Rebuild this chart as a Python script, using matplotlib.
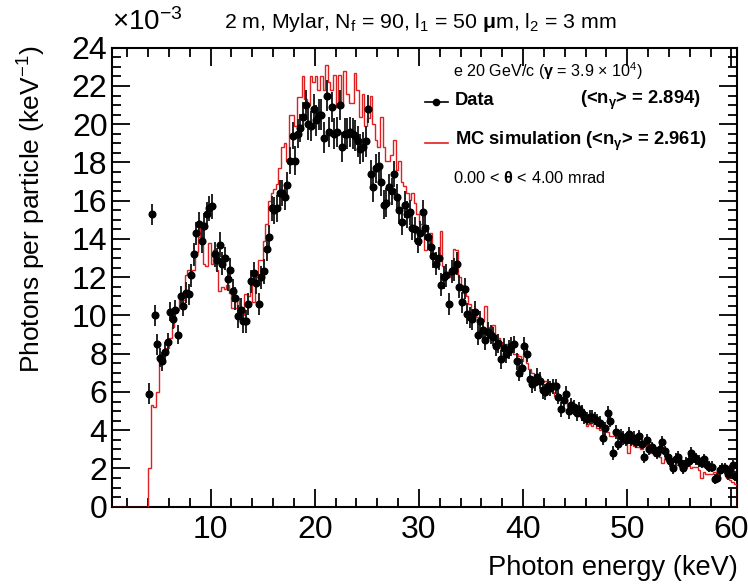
import numpy as np
import matplotlib
matplotlib.use("Agg")
import matplotlib.pyplot as plt
from matplotlib.lines import Line2D

plt.rcParams['font.family'] = ['Liberation Sans', 'DejaVu Sans']
plt.rcParams['mathtext.fontset'] = 'custom'
plt.rcParams['mathtext.rm'] = 'Liberation Sans'
plt.rcParams['mathtext.it'] = 'Liberation Sans:italic'
plt.rcParams['mathtext.bf'] = 'Liberation Sans:bold'

# histogram binning (keV)
bin_lo = 0.5
bin_width = 0.25
n_bins = 240
first_filled = 14   # first bin with entries (4.0 keV)

# measured spectrum, 10^-3 photons / keV / particle, one value per 0.25 keV bin from 4 keV
data = [
    5.9, 15.3, 10.0, 8.5,      # 4
    7.8, 7.6, 8.1, 8.6,        # 5
    10.2, 9.8, 10.3, 9.0,      # 6
    11.0, 10.5, 11.2, 11.1,    # 7
    12.1, 13.2, 14.3, 14.8,    # 8
    13.9, 14.7, 15.3, 15.6,    # 9
    15.7, 13.2, 12.9, 13.7,    # 10
    12.7, 13.0, 11.9, 12.4,    # 11
    11.3, 10.9, 9.95, 10.3,    # 12
    9.7, 9.7, 10.6, 11.8,      # 13
    12.2, 11.7, 10.6, 12.0,    # 14
    12.3, 13.5, 14.1, 15.6,    # 15
    15.5, 15.6, 16.4, 16.4,    # 16
    16.2, 16.8, 18.1, 19.4,    # 17
    18.1, 19.5, 19.8, 20.4,    # 18
    21.0, 20.0, 19.9, 20.8,    # 19
    20.2, 20.5, 20.5, 19.3,    # 20
    21.5, 19.6, 20.9, 19.5,    # 21
    19.6, 21.0, 18.8, 19.5,    # 22
    19.5, 19.6, 19.5, 19.4,    # 23
    19.1, 18.7, 18.8, 19.1,    # 24
    20.8, 17.4, 16.7, 17.7,    # 25
    17.8, 17.0, 15.8, 15.9,    # 26
    16.7, 16.5, 17.4, 16.2,    # 27
    15.5, 14.9, 15.8, 15.3,    # 28
    15.4, 14.6, 14.5, 13.9,    # 29
    14.3, 15.4, 14.6, 14.1,    # 30
    13.6, 13.1, 12.7, 13.0,    # 31
    11.6, 12.0, 12.1, 10.6,    # 32
    12.3, 12.4, 12.7, 11.5,    # 33
    10.7, 11.4, 10.1, 9.9,     # 34
    9.8, 10.2, 9.0, 9.7,       # 35
    9.25, 8.7, 9.15, 9.0,      # 36
    8.9, 8.4, 8.55, 7.7,       # 37
    8.3, 8.0, 8.2, 8.4,        # 38
    8.5, 7.6, 7.0, 7.25,       # 39
    8.4, 8.0, 6.7, 6.4,        # 40
    6.5, 6.8, 6.6, 6.1,        # 41
    6.0, 6.3, 6.2, 6.3,        # 42
    6.3, 5.75, 5.1, 5.6,       # 43
    5.9, 5.0, 5.3, 5.2,        # 44
    4.9, 5.1, 4.9, 4.7,        # 45
    4.6, 4.7, 4.7, 4.6,        # 46
    4.5, 4.4, 3.6, 4.1,        # 47
    4.9, 4.5, 2.8, 3.9,        # 48
    3.3, 3.7, 3.6, 3.5,        # 49
    3.8, 3.5, 3.6, 3.4,        # 50
    3.7, 3.3, 2.6, 3.5,        # 51
    3.0, 3.1, 2.9, 2.8,        # 52
    3.0, 3.4, 2.9, 2.6,        # 53
    2.4, 2.0, 2.5, 2.6,        # 54
    2.3, 2.0, 2.3, 2.4,        # 55
    2.8, 2.6, 2.5, 2.4,        # 56
    2.3, 2.5, 2.2, 2.1,        # 57
    2.1, 1.45, 1.5, 1.9,       # 58
    2.0, 2.0, 1.7, 1.9,        # 59
    2.2, 1.6,                  # 60
]

# statistical error of the data, one value per keV (4 ... 60)
data_err_per_kev = [
    0.55, 0.5, 0.5, 0.55, 0.6, 0.65,
    0.65, 0.6, 0.6, 0.6, 0.6,
    0.65, 0.7, 0.7, 0.75, 0.8,
    0.8, 0.8, 0.8, 0.8, 0.8,
    0.75, 0.75, 0.7, 0.7, 0.65,
    0.65, 0.6, 0.6, 0.6, 0.55,
    0.55, 0.5, 0.5, 0.5, 0.45,
    0.45, 0.45, 0.4, 0.4, 0.4,
    0.4, 0.35, 0.35, 0.35, 0.35,
    0.35, 0.3, 0.3, 0.3, 0.3,
    0.3, 0.3, 0.28, 0.28, 0.28, 0.28,
]

# MC simulation, same binning
mc = [
    2.0, 5.3, 5.2, 6.0,        # 4
    7.5, 7.9, 8.1, 8.3,        # 5
    8.8, 9.4, 10.2, 10.3,      # 6
    11.0, 10.8, 12.1, 12.4,    # 7
    12.1, 12.4, 13.3, 14.1,    # 8
    14.6, 12.7, 12.6, 13.8,    # 9
    12.7, 13.4, 12.4, 11.3,    # 10
    11.5, 11.4, 11.6, 11.2,    # 11
    10.4, 10.4, 10.9, 10.1,    # 12
    10.0, 11.1, 11.0, 11.8,    # 13
    10.7, 12.0, 12.9, 12.9,    # 14
    13.9, 14.8, 16.0, 16.4,    # 15
    16.6, 16.9, 17.7, 18.8,    # 16
    19.0, 18.1, 20.5, 20.5,    # 17
    19.9, 21.4, 21.4, 22.5,    # 18
    21.3, 21.0, 22.5, 22.2,    # 19
    22.5, 21.8, 22.5, 21.8,    # 20
    23.1, 22.2, 21.8, 22.6,    # 21
    20.9, 22.6, 20.9, 22.8,    # 22
    21.6, 21.1, 21.1, 22.7,    # 23
    21.8, 20.4, 21.6, 19.9,    # 24
    20.3, 21.5, 20.0, 19.2,    # 25
    18.8, 20.4, 18.8, 18.1,    # 26
    18.1, 18.4, 19.2, 17.6,    # 27
    18.1, 17.0, 16.75, 16.4,   # 28
    16.05, 16.4, 15.9, 15.3,   # 29
    14.8, 14.5, 13.4, 13.5,    # 30
    14.3, 13.2, 13.0, 12.9,    # 31
    14.4, 12.6, 12.1, 12.0,    # 32
    12.5, 13.5, 13.4, 12.0,    # 33
    11.6, 11.2, 11.0, 10.6,    # 34
    10.3, 10.2, 9.9, 9.8,      # 35
    9.7, 10.5, 9.4, 9.3,       # 36
    9.5, 9.0, 8.8, 8.6,        # 37
    8.4, 8.5, 8.2, 8.3,        # 38
    8.0, 8.0, 7.9, 7.6,        # 39
    8.0, 7.5, 7.2, 7.0,        # 40
    6.8, 6.7, 6.6, 6.5,        # 41
    6.6, 6.2, 6.4, 6.0,        # 42
    5.8, 5.6, 5.7, 5.5,        # 43
    5.6, 5.2, 5.4, 5.0,        # 44
    5.2, 4.9, 4.7, 4.5,        # 45
    4.2, 4.3, 4.2, 4.4,        # 46
    4.1, 4.0, 4.2, 4.0,        # 47
    3.9, 3.7, 3.7, 3.8,        # 48
    3.7, 3.6, 3.4, 3.5,        # 49
    2.8, 3.3, 3.2, 3.1,        # 50
    3.1, 3.0, 3.2, 2.9,        # 51
    2.8, 2.9, 2.7, 2.8,        # 52
    2.6, 2.3, 2.5, 2.4,        # 53
    2.3, 2.1, 2.2, 2.2,        # 54
    2.1, 2.2, 2.0, 2.2,        # 55
    2.0, 2.1, 2.1, 1.9,        # 56
    1.5, 1.8, 1.7, 1.7,        # 57
    1.7, 1.8, 1.6, 1.9,        # 58
    2.0, 1.8, 1.5, 1.4,        # 59
    1.3, 1.2,                  # 60
]

edges = bin_lo + bin_width * np.arange(n_bins + 1)
centers = 0.5 * (edges[:-1] + edges[1:])
mc_hist = np.zeros(n_bins)
mc_hist[first_filled:first_filled + len(mc)] = mc
x_data = centers[first_filled:first_filled + len(data)]
err = np.repeat(data_err_per_kev, 4)[:len(data)]

fig = plt.figure(figsize=(7.48, 5.85), dpi=100)
ax = fig.add_axes([0.1493, 0.1338, 0.8356, 0.7846])

ax.stairs(mc_hist, edges, baseline=0, color='#e02020', lw=1.0, zorder=2.6)
ax.errorbar(x_data, data, yerr=err, fmt='o', color='black', ecolor='#222222',
            elinewidth=1.4, markersize=4.8, capsize=0, zorder=3)

ax.set_xlim(0.5, 60.5)
ax.set_ylim(0, 24)
ax.set_xticks(np.arange(10, 61, 10))
ax.set_xticks(np.arange(2, 61, 2), minor=True)
ax.set_yticks(np.arange(0, 25, 2))
ax.set_yticks(np.arange(0, 24.1, 0.5), minor=True)
ax.tick_params(which='both', direction='in', top=True, right=True, width=1.3, labelsize=23)
ax.tick_params(which='major', length=13)
ax.tick_params(which='minor', length=6.5)
ax.tick_params(axis='x', pad=6)
ax.tick_params(axis='y', pad=3)
for sp in ax.spines.values():
    sp.set_linewidth(1.5)

def fx(px):
    return px / 748.0

def fy(py):
    return 1 - py / 585.0

fig.text(fx(112), fy(22), '×10$^{-3}$', fontsize=20, ha='left', va='center')
fig.text(fx(420), fy(22),
         '2 m, Mylar, N$_\\mathrm{f}$ = 90, l$_{1}$ = 50 $\\mathbf{μ}$m, l$_{2}$ = 3 mm',
         fontsize=15.3, ha='center', va='center')
fig.text(fx(738), fy(568), 'Photon energy (keV)', fontsize=19.6, ha='right', va='center')
fig.text(fx(32), fy(46), 'Photons per particle (keV$^{-1}$)', fontsize=19, rotation=90,
         ha='center', va='top')

# legend block
fig.text(fx(453), fy(71), 'e 20 GeV/c ($\\mathbf{γ}$ = 3.9 × 10$^{4}$)', fontsize=11.6,
         ha='left', va='center')
fig.add_artist(Line2D([fx(425), fx(448)], [fy(102), fy(102)], color='black', lw=1.2))
fig.add_artist(Line2D([fx(436.5)], [fy(102)], color='black', marker='o', markersize=4.5))
fig.text(fx(455), fy(100), 'Data', fontsize=13.2, fontweight='bold', ha='left', va='center')
fig.text(fx(580), fy(100), '(<n$_{\\mathbf{γ}}$> = 2.894)', fontsize=13.2, fontweight='bold',
         ha='left', va='center')
fig.add_artist(Line2D([fx(425), fx(448)], [fy(143), fy(143)], color='#e02020', lw=1.2))
fig.text(fx(455), fy(141), 'MC simulation (<n$_{\\mathbf{γ}}$> = 2.961)', fontsize=13.2,
         fontweight='bold', ha='left', va='center')
fig.text(fx(453), fy(178), '0.00 < $\\mathbf{θ}$ < 4.00 mrad', fontsize=11.8, ha='left', va='center')

fig.savefig('out.png', dpi=100)
